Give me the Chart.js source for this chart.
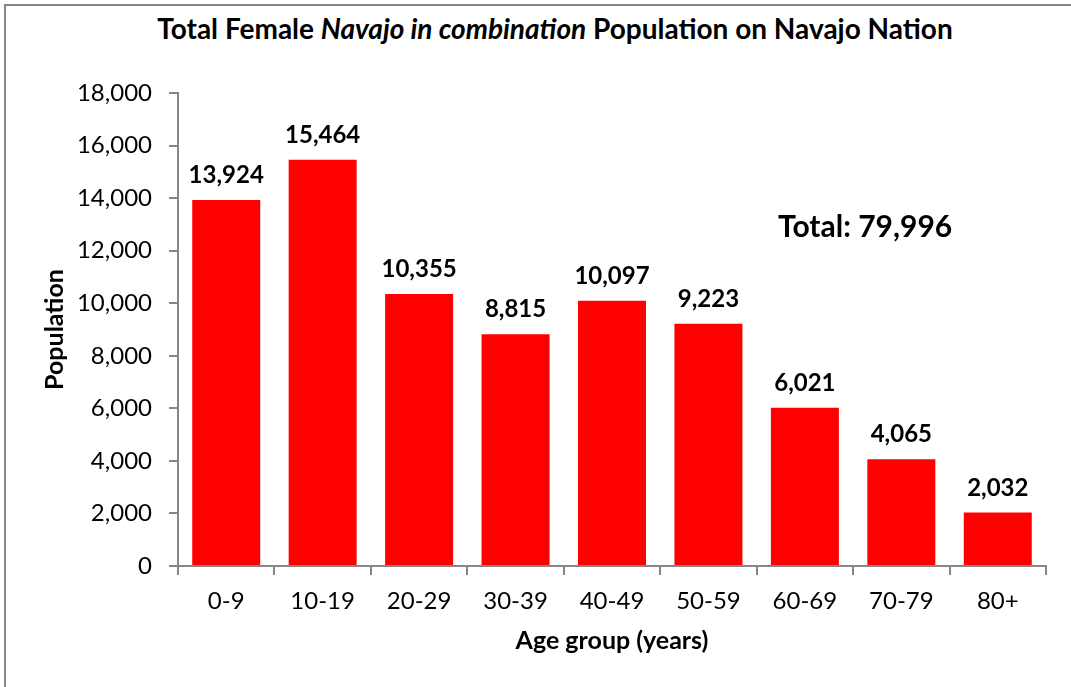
<!DOCTYPE html>
<html>
<head>
<meta charset="utf-8">
<script src="https://cdn.jsdelivr.net/npm/chart.js@4.4.1/dist/chart.umd.min.js"></script>
<style>
  body { margin: 0; background: #fff; }
  #wrap { position: relative; width: 1071px; height: 687px; overflow: hidden; }
  #frame { position: absolute; left: 4px; top: 4px; width: 1080px; height: 700px;
           border-left: 2px solid #868686; border-top: 2px solid #868686; box-sizing: border-box; }
  #titre { position: absolute; top: 11px; left: 105px; width: 900px; text-align: center; line-height: 34px;
           font: bold 28px Lato, "Noto Sans", sans-serif; color: #000; white-space: nowrap; }
  canvas { position: absolute; left: 0; top: 0; }
</style>
</head>
<body>
<div id="wrap">
  <div id="frame"></div>
  <div id="titre">Total Female <i>Navajo in combination</i> Population on Navajo Nation</div>
  <canvas id="grafico" width="1071" height="687"></canvas>
</div>
<script>
var faixas = ['0-9', '10-19', '20-29', '30-39', '40-49', '50-59', '60-69', '70-79', '80+'];
var populacao = [13924, 15464, 10355, 8815, 10097, 9223, 6021, 4065, 2032];
var totalTexto = 'Total: 79,996';
var fonte = 'Lato, "Noto Sans", sans-serif';
var cinza = '#868686';

function fmt(v) {
    return v.toLocaleString('en-US');
}

// rótulos em cima das barras e o total
var rotulos = {
    id: 'rotulos',
    afterDatasetsDraw: function (chart) {
        var ctx = chart.ctx;
        var meta = chart.getDatasetMeta(0);
        ctx.save();
        ctx.fillStyle = '#000';
        ctx.font = 'bold 24px ' + fonte;
        ctx.textAlign = 'center';
        ctx.textBaseline = 'alphabetic';
        meta.data.forEach(function (bar, i) {
            ctx.fillText(fmt(populacao[i]), bar.x, bar.y - 17);
        });
        ctx.font = 'bold 30px ' + fonte;
        ctx.textAlign = 'left';
        ctx.textBaseline = 'middle';
        ctx.fillText(totalTexto, 778, 227);
        ctx.restore();
    }
};

var ctx = document.getElementById('grafico').getContext('2d');
var chart = new Chart(ctx, {
    type: 'bar',
    data: {
        labels: faixas,
        datasets: [{
            data: populacao,
            backgroundColor: '#ff0000',
            borderWidth: 0,
            barPercentage: 0.705,
            categoryPercentage: 1
        }]
    },
    options: {
        responsive: false,
        animation: false,
        layout: { padding: { left: 0, top: 93, right: 25, bottom: 0 } },
        plugins: {
            legend: { display: false },
            tooltip: { enabled: false }
        },
        scales: {
            x: {
                grid: { display: true, drawOnChartArea: false, offset: true, color: cinza, tickLength: 9, lineWidth: 2 },
                border: { color: cinza, width: 2 },
                ticks: { color: '#000', font: { family: fonte, size: 24 }, padding: 12, maxRotation: 0 },
                title: { display: true, text: 'Age group (years)', color: '#000',
                         font: { family: fonte, size: 25, weight: 'bold' }, padding: { top: 0, bottom: 31 } },
                afterFit: function (s) { s.height = 121; }
            },
            y: {
                min: 0, max: 18000,
                grid: { display: true, drawOnChartArea: false, color: cinza, tickLength: 9, lineWidth: 2 },
                border: { color: cinza, width: 2 },
                ticks: { stepSize: 2000, color: '#000', font: { family: fonte, size: 24 }, padding: 17,
                         callback: function (v) { return fmt(v); } },
                title: { display: true, text: 'Population', color: '#000',
                         font: { family: fonte, size: 25, weight: 'bold' }, padding: { top: 40, bottom: 0 } },
                afterFit: function (s) { s.width = 178; }
            }
        }
    },
    plugins: [rotulos]
});
</script>
</body>
</html>
